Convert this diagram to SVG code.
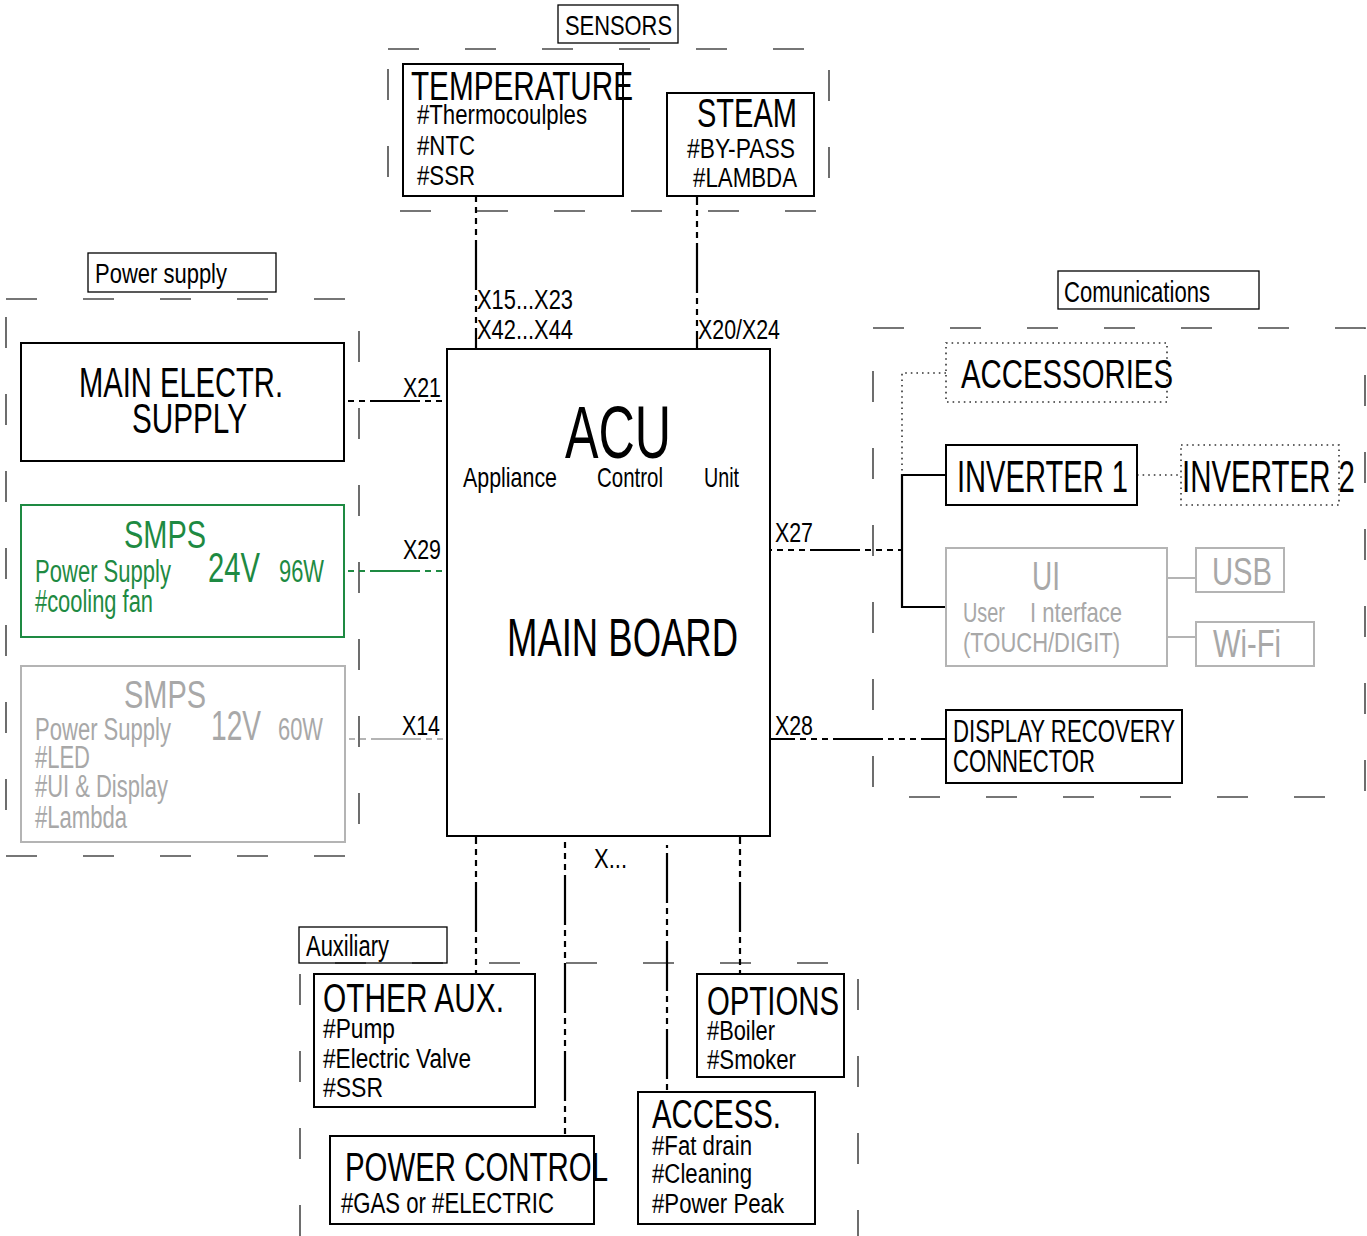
<svg xmlns="http://www.w3.org/2000/svg" width="1367" height="1236" viewBox="0 0 1367 1236">
<style>
text{font-family:"Liberation Sans Narrow","Liberation Sans",Arial,sans-serif;fill:#000}
.box{fill:none;stroke:#000;stroke-width:2}
.lbl{fill:none;stroke:#000;stroke-width:1.3}
.grp{fill:none;stroke:#4a4a4a;stroke-width:1.6;stroke-dasharray:31 46}
.dot{fill:none;stroke:#333;stroke-width:1.6;stroke-dasharray:1.6 4}
.con{fill:none;stroke:#000;stroke-width:2.2;stroke-dasharray:50 5 6 5 6 5 6 5}
.sol{fill:none;stroke:#000;stroke-width:2.2}
.grn{stroke:#1e8a42}
.gry{stroke:#b4b4b4}
text.g{fill:#1e8a42}
text.s{fill:#a8a8a8}
</style>
<rect width="1367" height="1236" fill="#fff"/>

<g id="groups">
  <rect class="grp" x="388" y="49" width="441" height="162"/>
  <rect class="grp" x="6" y="299" width="353" height="557"/>
  <rect class="grp" x="873" y="328" width="492" height="469"/>
  <path class="grp" d="M300,1236 V963 H858 V1236"/>
</g>

<g id="connectors">
  <path class="con" stroke-dashoffset="44" d="M476,196 V349"/>
  <path class="con" stroke-dashoffset="41" d="M697,196 V349"/>
  <text x="477" y="309" font-size="28" textLength="96" lengthAdjust="spacingAndGlyphs">X15...X23</text>
  <text x="477" y="339" font-size="28" textLength="96" lengthAdjust="spacingAndGlyphs">X42...X44</text>
  <text x="698" y="339" font-size="28" textLength="82" lengthAdjust="spacingAndGlyphs">X20/X24</text>

  <path class="con" stroke-dashoffset="62" d="M344,401 H447"/>
  <path class="con grn" stroke-dashoffset="62" d="M344,571 H447"/>
  <path class="con gry" stroke-dashoffset="62" d="M345,739 H447"/>
  <text x="403" y="397" font-size="28" textLength="38" lengthAdjust="spacingAndGlyphs">X21</text>
  <text x="403" y="559" font-size="28" textLength="38" lengthAdjust="spacingAndGlyphs">X29</text>
  <text x="402" y="735" font-size="28" textLength="38" lengthAdjust="spacingAndGlyphs">X14</text>

  <path class="con" stroke-dashoffset="48" d="M770,550 H902"/>
  <text x="775" y="542" font-size="28" textLength="38" lengthAdjust="spacingAndGlyphs">X27</text>
  <path class="sol" d="M946,475 H902 V607 H946"/>
  <path class="dot" d="M946,373 H902 V475"/>
  <path class="dot" d="M1137,475 H1181"/>
  <path class="sol gry" d="M1167,578 H1196 M1167,637 H1196"/>
  <path class="con" stroke-dashoffset="25" d="M770,739 H946"/>
  <text x="775" y="735" font-size="28" textLength="38" lengthAdjust="spacingAndGlyphs">X28</text>

  <path class="con" stroke-dashoffset="42" d="M476,836 V974"/>
  <path class="con" stroke-dashoffset="49" d="M565,836 V1136"/>
  <path class="con" stroke-dashoffset="80" d="M667,845 V1092"/>
  <path class="con" stroke-dashoffset="42" d="M740,836 V974"/>
  <text x="594" y="868" font-size="28" textLength="33" lengthAdjust="spacingAndGlyphs">X...</text>
</g>

<g id="sensors-label">
  <rect class="lbl" x="558" y="5" width="120" height="38"/>
  <text x="565" y="35" font-size="28" textLength="107" lengthAdjust="spacingAndGlyphs">SENSORS</text>
</g>
<g id="temperature">
  <rect class="box" x="403" y="64" width="220" height="132"/>
  <text x="411" y="100" font-size="40" textLength="222" lengthAdjust="spacingAndGlyphs">TEMPERATURE</text>
  <text x="417" y="124" font-size="27" textLength="170" lengthAdjust="spacingAndGlyphs">#Thermocoulples</text>
  <text x="417" y="155" font-size="27" textLength="58" lengthAdjust="spacingAndGlyphs">#NTC</text>
  <text x="417" y="185" font-size="27" textLength="58" lengthAdjust="spacingAndGlyphs">#SSR</text>
</g>
<g id="steam">
  <rect class="box" x="667" y="93" width="147" height="103"/>
  <text x="697" y="127" font-size="40" textLength="100" lengthAdjust="spacingAndGlyphs">STEAM</text>
  <text x="687" y="158" font-size="27" textLength="108" lengthAdjust="spacingAndGlyphs">#BY-PASS</text>
  <text x="693" y="187" font-size="27" textLength="104" lengthAdjust="spacingAndGlyphs">#LAMBDA</text>
</g>

<g id="acu">
  <rect class="box" x="447" y="349" width="323" height="487"/>
  <text x="565" y="458" font-size="74" textLength="106" lengthAdjust="spacingAndGlyphs">ACU</text>
  <text x="463" y="487" font-size="28" textLength="94" lengthAdjust="spacingAndGlyphs">Appliance</text>
  <text x="597" y="487" font-size="28" textLength="66" lengthAdjust="spacingAndGlyphs">Control</text>
  <text x="704" y="487" font-size="28" textLength="35" lengthAdjust="spacingAndGlyphs">Unit</text>
  <text x="507" y="656" font-size="53" textLength="231" lengthAdjust="spacingAndGlyphs">MAIN BOARD</text>
</g>

<g id="power-supply-label">
  <rect class="lbl" x="88" y="253" width="188" height="39"/>
  <text x="95" y="283" font-size="28" textLength="132" lengthAdjust="spacingAndGlyphs">Power supply</text>
</g>
<g id="main-electr-supply">
  <rect class="box" x="21" y="343" width="323" height="118"/>
  <text x="79" y="397" font-size="42" textLength="204" lengthAdjust="spacingAndGlyphs">MAIN ELECTR.</text>
  <text x="132" y="433" font-size="42" textLength="115" lengthAdjust="spacingAndGlyphs">SUPPLY</text>
</g>
<g id="smps-24v">
  <rect class="box grn" x="21" y="505" width="323" height="132"/>
  <text class="g" x="124" y="548" font-size="39" textLength="82" lengthAdjust="spacingAndGlyphs">SMPS</text>
  <text class="g" x="35" y="582" font-size="31" textLength="136" lengthAdjust="spacingAndGlyphs">Power Supply</text>
  <text class="g" x="208" y="582" font-size="42" textLength="52" lengthAdjust="spacingAndGlyphs">24V</text>
  <text class="g" x="279" y="582" font-size="31" textLength="45" lengthAdjust="spacingAndGlyphs">96W</text>
  <text class="g" x="35" y="612" font-size="31" textLength="118" lengthAdjust="spacingAndGlyphs">#cooling fan</text>
</g>
<g id="smps-12v">
  <rect class="box gry" x="21" y="666" width="324" height="176"/>
  <text class="s" x="124" y="708" font-size="39" textLength="82" lengthAdjust="spacingAndGlyphs">SMPS</text>
  <text class="s" x="35" y="740" font-size="31" textLength="136" lengthAdjust="spacingAndGlyphs">Power Supply</text>
  <text class="s" x="211" y="740" font-size="42" textLength="50" lengthAdjust="spacingAndGlyphs">12V</text>
  <text class="s" x="278" y="740" font-size="31" textLength="45" lengthAdjust="spacingAndGlyphs">60W</text>
  <text class="s" x="35" y="768" font-size="31" textLength="55" lengthAdjust="spacingAndGlyphs">#LED</text>
  <text class="s" x="35" y="797" font-size="31" textLength="133" lengthAdjust="spacingAndGlyphs">#UI &amp; Display</text>
  <text class="s" x="35" y="828" font-size="31" textLength="92" lengthAdjust="spacingAndGlyphs">#Lambda</text>
</g>

<g id="communications-label">
  <rect class="lbl" x="1058" y="271" width="201" height="38"/>
  <text x="1064" y="302" font-size="29" textLength="146" lengthAdjust="spacingAndGlyphs">Comunications</text>
</g>
<g id="accessories">
  <rect class="dot" x="946" y="343" width="221" height="59"/>
  <text x="961" y="388" font-size="40" textLength="212" lengthAdjust="spacingAndGlyphs">ACCESSORIES</text>
</g>
<g id="inverter-1">
  <rect class="box" x="946" y="445" width="191" height="60"/>
  <text x="957" y="492" font-size="45" textLength="171" lengthAdjust="spacingAndGlyphs">INVERTER 1</text>
</g>
<g id="inverter-2">
  <rect class="dot" x="1181" y="445" width="158" height="60"/>
  <text x="1182" y="492" font-size="45" textLength="173" lengthAdjust="spacingAndGlyphs">INVERTER 2</text>
</g>
<g id="ui">
  <rect class="box gry" x="946" y="548" width="221" height="118"/>
  <text class="s" x="1032" y="590" font-size="40" textLength="28" lengthAdjust="spacingAndGlyphs">UI</text>
  <text class="s" x="963" y="622" font-size="28" textLength="42" lengthAdjust="spacingAndGlyphs">User</text>
  <text class="s" x="1030" y="622" font-size="28" textLength="92" lengthAdjust="spacingAndGlyphs">I nterface</text>
  <text class="s" x="963" y="652" font-size="28" textLength="157" lengthAdjust="spacingAndGlyphs">(TOUCH/DIGIT)</text>
</g>
<g id="usb">
  <rect class="box gry" x="1196" y="548" width="88" height="44"/>
  <text class="s" x="1212" y="585" font-size="38" textLength="60" lengthAdjust="spacingAndGlyphs">USB</text>
</g>
<g id="wifi">
  <rect class="box gry" x="1196" y="622" width="118" height="44"/>
  <text class="s" x="1213" y="657" font-size="38" textLength="68" lengthAdjust="spacingAndGlyphs">Wi-Fi</text>
</g>
<g id="display-recovery">
  <rect class="box" x="946" y="710" width="236" height="73"/>
  <text x="953" y="742" font-size="31" textLength="222" lengthAdjust="spacingAndGlyphs">DISPLAY RECOVERY</text>
  <text x="953" y="772" font-size="31" textLength="142" lengthAdjust="spacingAndGlyphs">CONNECTOR</text>
</g>

<g id="auxiliary-label">
  <rect class="lbl" x="299" y="927" width="148" height="36"/>
  <text x="306" y="956" font-size="29" textLength="83" lengthAdjust="spacingAndGlyphs">Auxiliary</text>
</g>
<g id="other-aux">
  <rect class="box" x="314" y="974" width="221" height="133"/>
  <text x="323" y="1012" font-size="40" textLength="181" lengthAdjust="spacingAndGlyphs">OTHER AUX.</text>
  <text x="323" y="1038" font-size="27" textLength="72" lengthAdjust="spacingAndGlyphs">#Pump</text>
  <text x="323" y="1068" font-size="27" textLength="148" lengthAdjust="spacingAndGlyphs">#Electric Valve</text>
  <text x="323" y="1097" font-size="27" textLength="60" lengthAdjust="spacingAndGlyphs">#SSR</text>
</g>
<g id="power-control">
  <rect class="box" x="330" y="1136" width="264" height="88"/>
  <text x="345" y="1181" font-size="40" textLength="263" lengthAdjust="spacingAndGlyphs">POWER CONTROL</text>
  <text x="341" y="1213" font-size="29" textLength="213" lengthAdjust="spacingAndGlyphs">#GAS or #ELECTRIC</text>
</g>
<g id="access">
  <rect class="box" x="638" y="1092" width="177" height="132"/>
  <text x="652" y="1128" font-size="40" textLength="129" lengthAdjust="spacingAndGlyphs">ACCESS.</text>
  <text x="652" y="1155" font-size="27" textLength="100" lengthAdjust="spacingAndGlyphs">#Fat drain</text>
  <text x="652" y="1183" font-size="27" textLength="100" lengthAdjust="spacingAndGlyphs">#Cleaning</text>
  <text x="652" y="1213" font-size="27" textLength="132" lengthAdjust="spacingAndGlyphs">#Power Peak</text>
</g>
<g id="options">
  <rect class="box" x="697" y="974" width="147" height="103"/>
  <text x="707" y="1015" font-size="40" textLength="132" lengthAdjust="spacingAndGlyphs">OPTIONS</text>
  <text x="707" y="1040" font-size="27" textLength="68" lengthAdjust="spacingAndGlyphs">#Boiler</text>
  <text x="707" y="1069" font-size="27" textLength="89" lengthAdjust="spacingAndGlyphs">#Smoker</text>
</g>
</svg>
